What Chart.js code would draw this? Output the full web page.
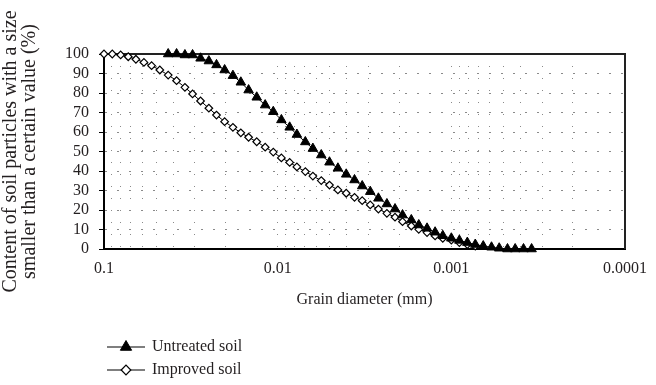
<!DOCTYPE html>
<html>
<head>
<meta charset="utf-8">
<script src="https://cdn.jsdelivr.net/npm/chart.js@4/dist/chart.umd.min.js"></script>
<style>
  html, body { margin: 0; padding: 0; background: #fff; }
  #wrap { width: 656px; height: 385px; position: relative; }
</style>
</head>
<body>
<div id="wrap"><canvas id="chart-grain"></canvas></div>
<script>
// grain size distribution, log x axis reversed (0.1 -> 0.0001 mm)

const diameters = [
  0.1, 0.0896, 0.0802, 0.0725, 0.0655, 0.0589, 0.0532, 0.0477, 0.0427, 0.0382,
  0.0342, 0.0309, 0.0278, 0.0249, 0.0225, 0.0202, 0.0181, 0.0163, 0.0147, 0.0132,
  0.0118, 0.0106, 0.00952, 0.00853, 0.00775, 0.00693, 0.00627, 0.00561, 0.00503, 0.0045,
  0.00403, 0.00361, 0.00326, 0.00293, 0.00263, 0.00235, 0.00211, 0.00191, 0.0017, 0.00154,
  0.00138, 0.00124, 0.00112, 0.001, 0.000899, 0.000809, 0.000728, 0.000655, 0.000587, 0.00053,
  0.000475, 0.000429, 0.000384, 0.000345,
];

// untreated soil starts at the 9th diameter (0.0427 mm)
const untreated = [
  null, null, null, null, null, null, null, null,
  100, 100, 99.5, 99.5, 97.8, 96.4, 94.4, 91.8, 88.9, 85.5,
  81.5, 77.8, 73.8, 70.4, 66.2, 62.4, 58.7, 54.9, 51.5, 48.2,
  44.5, 41.4, 38.3, 35.4, 32.3, 29.4, 26, 23.1, 20.5, 17.4,
  14.9, 12.3, 10.6, 8.6, 6.8, 5.5, 4.4, 3.3, 2.3, 1.5,
  0.9, 0.4, 0, 0, 0, 0,
];

const improved = [
  100, 100, 99.5, 98.6, 97.3, 95.7, 94, 91.8, 89.2, 86.3,
  82.9, 79.5, 75.9, 72.2, 68.7, 65.3, 62.4, 59.6, 57.3, 55,
  52.2, 49.7, 46.7, 44.4, 42.1, 39.7, 37.4, 35.1, 32.8, 30.3,
  28.6, 26.5, 24.8, 22.6, 20.5, 18.3, 16.3, 14, 11.8, 10.1,
  8.4, 6.7, 5.5, 4.6, 3.3, 2.3, 1.5,
];

const decades = [0.1, 0.01, 0.001, 0.0001];
const decadeLabels = ['0.1', '0.01', '0.001', '0.0001'];
const yTitleLines = ['Content of soil particles with a size', 'smaller than a certain value (%)'];
const xTitle = 'Grain diameter (mm)';

const SERIF = "'Liberation Serif', 'DejaVu Serif', serif";
Chart.defaults.font = { family: SERIF, size: 16 };
Chart.defaults.color = '#231f20';

function toPoints(values) {
  const pts = [];
  values.forEach((v, i) => { if (v !== null && v !== undefined) pts.push({ x: diameters[i], y: v }); });
  return pts;
}

// left title, top/right frame and the line+marker legend
const extras = {
  id: 'extras',
  beforeDatasetsDraw(chart) {
    const { ctx, chartArea: a } = chart;
    ctx.save();
    ctx.strokeStyle = '#222';
    ctx.lineWidth = 2;
    ctx.beginPath();
    ctx.moveTo(a.left, a.top);
    ctx.lineTo(a.right, a.top);
    ctx.lineTo(a.right, a.bottom);
    ctx.stroke();
    ctx.restore();
  },
  afterDraw(chart) {
    const { ctx, chartArea: a } = chart;
    ctx.save();
    ctx.fillStyle = '#231f20';
    ctx.font = '20px ' + SERIF;
    ctx.textAlign = 'center';
    ctx.textBaseline = 'middle';
    const cy = (a.top + a.bottom) / 2;
    [11, 30].forEach((x, i) => {
      ctx.save();
      ctx.translate(x, cy);
      ctx.rotate(-Math.PI / 2);
      ctx.fillText(yTitleLines[i], 0, 0);
      ctx.restore();
    });

    const rows = [347, 370];
    ctx.font = '16px ' + SERIF;
    ctx.textAlign = 'left';
    chart.data.datasets.forEach((ds, i) => {
      const y = rows[i];
      ctx.strokeStyle = '#000';
      ctx.lineWidth = 1.2;
      ctx.beginPath();
      ctx.moveTo(107, y);
      ctx.lineTo(145, y);
      ctx.stroke();

      ctx.fillStyle = ds.pointBackgroundColor;
      ctx.lineWidth = ds.pointBorderWidth;
      Chart.helpers.drawPoint(ctx, {
        pointStyle: ds.pointStyle,
        radius: ds.pointRadius + 1,
        borderWidth: ds.pointBorderWidth,
        rotation: 0,
      }, 126, y);

      ctx.fillStyle = '#231f20';
      ctx.fillText(ds.label, 152, y);
    });
    ctx.restore();
  },
};

new Chart(document.getElementById('chart-grain'), {
  type: 'line',
  data: {
    datasets: [
      {
        label: 'Untreated soil',
        data: toPoints(untreated),
        borderColor: '#000',
        borderWidth: 1,
        pointStyle: 'triangle',
        pointRadius: 5.5,
        pointBackgroundColor: '#000',
        pointBorderColor: '#000',
        pointBorderWidth: 1,
        clip: false,
      },
      {
        label: 'Improved soil',
        data: toPoints(improved),
        borderColor: '#000',
        borderWidth: 1,
        pointStyle: 'rectRot',
        pointRadius: 3.8,
        pointBackgroundColor: '#fff',
        pointBorderColor: '#000',
        pointBorderWidth: 1.2,
        clip: false,
      },
    ],
  },
  options: {
    responsive: true,
    maintainAspectRatio: false,
    animation: false,
    layout: { padding: { left: 44, right: 31, top: 54, bottom: 72 } },
    plugins: { legend: { display: false }, tooltip: { enabled: false } },
    scales: {
      x: {
        type: 'logarithmic',
        reverse: true,
        min: 0.0001,
        max: 0.1,
        afterBuildTicks(scale) {
          // decade majors plus 2..9 minors, for the dotted grid
          const ticks = [];
          decades.forEach((d) => {
            for (let k = 1; k <= 9; k++) {
              const v = d * k / 10;
              if (v >= 0.0001 - 1e-12) ticks.push({ value: v });
            }
          });
          ticks.push({ value: 0.1 });
          scale.ticks = ticks;
        },
        afterFit(scale) { scale.height = 64; },
        ticks: {
          autoSkip: false,
          maxRotation: 0,
          padding: 10,
          callback(value) {
            const i = decades.findIndex((d) => Math.abs(d - value) / d < 1e-6);
            return i >= 0 ? decadeLabels[i] : '';
          },
        },
        grid: { color: '#8a8a8a', lineWidth: 1, drawTicks: false },
        border: { color: '#000', width: 2, dash: [1, 11] },
        title: { display: true, text: xTitle, padding: { top: 4, bottom: 4 } },
      },
      y: {
        min: 0,
        max: 100,
        afterFit(scale) { scale.width = 60; },
        ticks: { stepSize: 10, padding: 10, autoSkip: false },
        grid: {
          color: '#8a8a8a', lineWidth: 1,
          drawTicks: true, tickLength: 5, tickColor: '#000', tickBorderDash: [],
        },
        border: { color: '#000', width: 2, dash: [2, 10] },
      },
    },
  },
  plugins: [extras],
});
</script>
</body>
</html>
